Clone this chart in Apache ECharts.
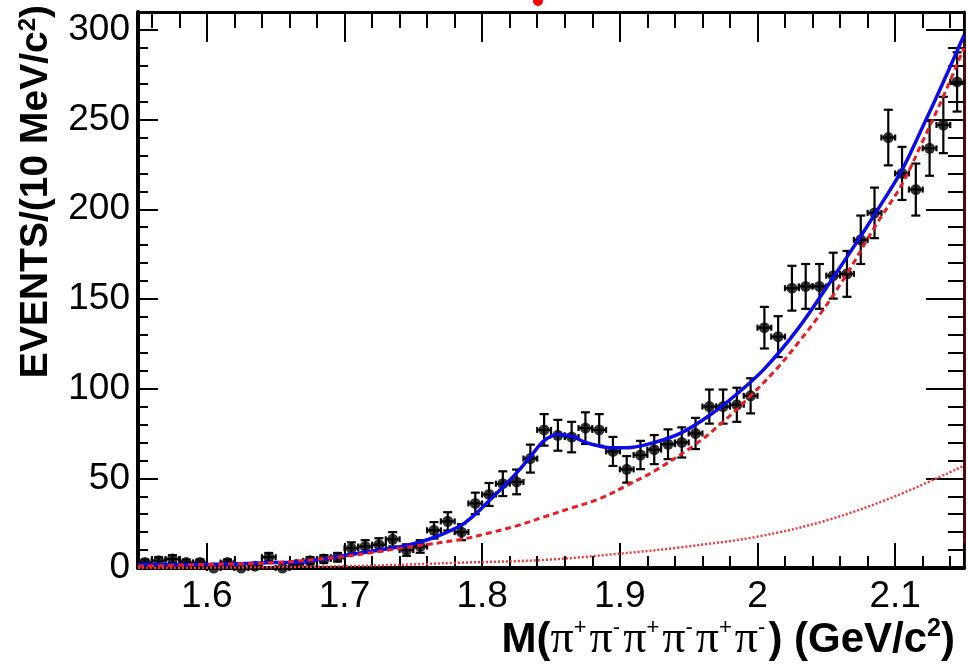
<!DOCTYPE html>
<html><head><meta charset="utf-8">
<script src="https://cdn.jsdelivr.net/npm/echarts@6/dist/echarts.min.js"></script>
<style>html,body{margin:0;padding:0;background:#fff}#c{width:968px;height:670px}</style>
</head><body><div id="c"></div>
<script>
// ---- data ----
const binCenters = [1.555,1.565,1.575,1.585,1.595,1.605,1.615,1.625,1.635,1.645,
  1.655,1.665,1.675,1.685,1.695,1.705,1.715,1.725,1.735,1.745,
  1.755,1.765,1.775,1.785,1.795,1.805,1.815,1.825,1.835,1.845,
  1.855,1.865,1.875,1.885,1.895,1.905,1.915,1.925,1.935,1.945,
  1.955,1.965,1.975,1.985,1.995,2.005,2.015,2.025,2.035,2.045,
  2.055,2.065,2.075,2.085,2.095,2.105,2.115,2.125,2.135,2.145];
const events = [3,4,5,3,3,0,3,0,1,6,
  0,2,4,5,6,11,12,13,16,10,
  12,21,26,20,36,41,47,48,61,77,
  74,73,78,77,65,55,63,66,69,70,
  75,90,90,91,96,134,129,156,157,157,
  163,164,183,198,240,220,211,234,247,271];
const eventErrors = [1.7,2,2.2,1.7,1.7,0,1.7,0,1,2.4,
  0,1.4,2,2.2,2.4,3.3,3.5,3.6,4,3.2,
  3.5,4.6,5.1,4.5,6,6.4,6.9,6.9,7.8,8.8,
  8.6,8.5,8.8,8.8,8.1,7.4,7.9,8.1,8.3,8.4,
  8.7,9.5,9.5,9.5,9.8,11.6,11.4,12.5,12.5,12.5,
  12.8,12.8,13.5,14.1,15.5,14.8,14.5,15.3,15.7,16.5];
const binHalfWidth = 0.005;

const fitMass  = [1.55,1.60,1.65,1.67,1.70,1.725,1.745,1.765,1.785,1.795,1.805,1.815,1.825,1.835,1.845,1.855,1.865,1.875,1.885,1.895,1.905,1.925,1.945,1.965,1.985,2.005,2.03,2.055,2.075,2.085,2.105,2.12,2.135,2.15];
const fitTotal = [2,2,3,3.5,7,10,12.5,17,24,30,37.5,45,53,62,71,74.5,73.5,70,68,67,67,70,75.5,85,97,111,134,162,185,197,222,246,271,297];

const bkgMass   = [1.55,1.60,1.65,1.70,1.745,1.785,1.805,1.825,1.845,1.865,1.885,1.905,1.925,1.955,1.975,1.995,2.015,2.03,2.045,2.065,2.085,2.105,2.12,2.135,2.15];
const bkgValues = [1,2,3,6.5,11.5,16,19.5,23.5,28.5,33.5,38.5,46,54,69,81.5,96,112,126,141,164,190,214,238,263,290];

const compMass   = [1.55,1.60,1.65,1.70,1.75,1.785,1.845,1.90,1.944,2.0,2.05,2.10,2.15];
const compValues = [0,0.2,0.5,1,2,3,4.5,8,11.5,17.5,26.5,40,57];

const yTickLabels = ['0','50','100','150','200','250','300'];

// ---- chart ----
const chart = echarts.init(document.getElementById('c'), null, {renderer:'canvas'});
const FONT = '"Liberation Sans", Arial, Helvetica, sans-serif';
const black = '#000';

function xAx(pos, showLabel, tickLen, minorLen, lineW, color){
  return {
    type:'value', position:pos, min:1.55, max:2.15, minInterval:0.1, maxInterval:0.1,
    axisLine:{show:true, onZero:false, lineStyle:{color:color||black, width:lineW}},
    axisTick:{show:true, inside:true, length:tickLen, lineStyle:{color:black, width:2}},
    minorTick:{show:true, splitNumber:5, length:minorLen, lineStyle:{color:black, width:2}},
    splitLine:{show:false}, minorSplitLine:{show:false},
    axisLabel:{show:showLabel, showMinLabel:false, showMaxLabel:false, fontSize:37, color:black,
      fontFamily:FONT, margin:10}
  };
}
function yAx(pos, showLabel, tickLen, minorLen, lineW, color){
  return {
    type:'value', position:pos, min:0, max:310, interval:50,
    axisLine:{show:true, onZero:false, lineStyle:{color:color||black, width:lineW}},
    axisTick:{show:true, inside:true, length:tickLen, lineStyle:{color:black, width:2}},
    minorTick:{show:true, splitNumber:5, length:minorLen, lineStyle:{color:black, width:2}},
    splitLine:{show:false}, minorSplitLine:{show:false},
    axisLabel:{show:showLabel, showMaxLabel:false, fontSize:37, color:black, fontFamily:FONT, margin:8,
      formatter:(v)=> yTickLabels[Math.round(v/50)] || ''}
  };
}

const option = {
  animation:false,
  backgroundColor:'#fff',
  grid:{left:138, right:4, top:12, bottom:102, containLabel:false},
  xAxis:[ xAx('bottom', true, 25, 12, 4), xAx('top', false, 30, 16, 3) ],
  yAxis:[ yAx('left', true, 20, 10, 4), yAx('right', false, 38, 16, 3, '#4a0c0c') ],
  series:[
    {
      type:'custom', xAxisIndex:0, yAxisIndex:0, z:3,
      data: binCenters.map((m,i)=>[m, events[i], eventErrors[i]]),
      renderItem:function(params, api){
        const x = api.value(0), y = api.value(1), e = api.value(2);
        const c = api.coord([x, y]);
        const lo = api.coord([x, y - e]);
        const hi = api.coord([x, y + e]);
        const l = api.coord([x - binHalfWidth, y]);
        const r = api.coord([x + binHalfWidth, y]);
        const st = {stroke:'#000', lineWidth:2.2};
        const ch = [];
        if (e > 0) {
          ch.push({type:'line', shape:{x1:c[0], y1:lo[1], x2:c[0], y2:hi[1]}, style:st});
          ch.push({type:'line', shape:{x1:c[0]-4.5, y1:lo[1], x2:c[0]+4.5, y2:lo[1]}, style:st});
          ch.push({type:'line', shape:{x1:c[0]-4.5, y1:hi[1], x2:c[0]+4.5, y2:hi[1]}, style:st});
        }
        ch.push({type:'line', shape:{x1:l[0], y1:c[1], x2:r[0], y2:c[1]}, style:st});
        ch.push({type:'line', shape:{x1:l[0], y1:c[1]-3, x2:l[0], y2:c[1]+3}, style:st});
        ch.push({type:'line', shape:{x1:r[0], y1:c[1]-3, x2:r[0], y2:c[1]+3}, style:st});
        return {type:'group', children:ch};
      }
    },
    {
      type:'scatter', xAxisIndex:0, yAxisIndex:0, z:3,
      symbol:'circle', symbolSize:11, itemStyle:{color:'#000'},
      data: binCenters.map((m,i)=>[m, events[i]])
    },
    {
      type:'line', xAxisIndex:0, yAxisIndex:0, z:4, showSymbol:false, smooth:0.35,
      lineStyle:{color:'#0c0ce8', width:3.5},
      data: fitMass.map((m,i)=>[m, fitTotal[i]])
    },
    {
      type:'line', xAxisIndex:0, yAxisIndex:0, z:5, showSymbol:false, smooth:0.35,
      lineStyle:{color:'#ea1c24', width:3, type:[6,4]},
      data: bkgMass.map((m,i)=>[m, bkgValues[i]])
    },
    {
      type:'line', xAxisIndex:0, yAxisIndex:0, z:5, showSymbol:false, smooth:0.35,
      lineStyle:{color:'#ee3a3a', width:2.5, type:[2,2]},
      data: compMass.map((m,i)=>[m, compValues[i]])
    }
  ],
  graphic:[
    {type:'circle', shape:{cx:538, cy:1, r:5}, style:{fill:'#ff0000'}, z:100},
    {
      type:'text', x:955, y:640, z:100,
      style:{
        text:'{b|M(}{p|π}{s|+}{p|π}{s|-}{p|π}{s|+}{p|π}{s|-}{p|π}{s|+}{p|π}{s|-}{b|) (GeV/c}{s2|2}{b|)}',
        align:'right', verticalAlign:'middle',
        rich:{
          b:{fontFamily:FONT, fontWeight:'bold', fontSize:42, color:'#000'},
          p:{fontFamily:'"Liberation Serif", "Times New Roman", serif', fontSize:46, color:'#000'},
          s:{fontFamily:FONT, fontSize:22, color:'#000', verticalAlign:'top', padding:[0,3,18,0]},
          s2:{fontFamily:FONT, fontWeight:'bold', fontSize:25, color:'#000', verticalAlign:'top', padding:[0,0,12,0]}
        }
      }
    },
    {
      type:'text', x:36, y:5, rotation:Math.PI/2, z:100,
      style:{
        text:'{b|EVENTS/(10 MeV/c}{s2|2}{b|)}',
        align:'right', verticalAlign:'middle',
        rich:{
          b:{fontFamily:FONT, fontWeight:'bold', fontSize:39, color:'#000'},
          s2:{fontFamily:FONT, fontWeight:'bold', fontSize:24, color:'#000', verticalAlign:'top', padding:[0,0,12,0]}
        }
      }
    }
  ]
};
chart.setOption(option);
</script>
</body></html>
